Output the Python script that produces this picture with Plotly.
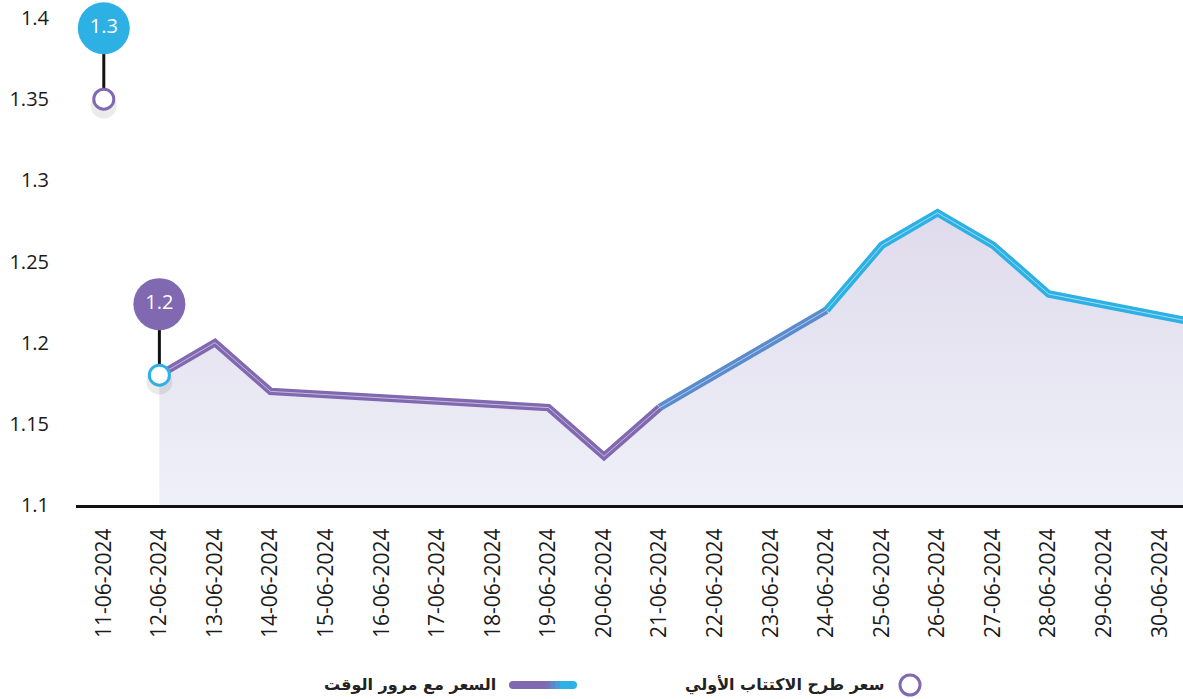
import plotly.graph_objects as go
from datetime import datetime, timedelta

# ---------------- data ----------------
tick_labels = ["11-06-2024", "12-06-2024", "13-06-2024", "14-06-2024", "15-06-2024",
               "16-06-2024", "17-06-2024", "18-06-2024", "19-06-2024", "20-06-2024",
               "21-06-2024", "22-06-2024", "23-06-2024", "24-06-2024", "25-06-2024",
               "26-06-2024", "27-06-2024", "28-06-2024", "29-06-2024", "30-06-2024"]
price_dates = ["2024-06-12", "2024-06-13", "2024-06-14", "2024-06-19", "2024-06-20",
               "2024-06-21", "2024-06-24", "2024-06-25", "2024-06-26", "2024-06-27",
               "2024-06-28", "2024-07-01"]
price_values = [1.18, 1.20, 1.17, 1.16, 1.13, 1.16, 1.22, 1.26, 1.28, 1.26, 1.23, 1.21]
ipo_date = "2024-06-11"
ipo_price = 1.35
ipo_label = "1.3"
first_date = "2024-06-12"
first_price = 1.18
first_label = "1.2"
y_ticks = [1.1, 1.15, 1.2, 1.25, 1.3, 1.35, 1.4]
y_ticktext = ["1.1", "1.15", "1.2", "1.25", "1.3", "1.35", "1.4"]
legend_ipo = "سعر طرح الاكتتاب الأولي"
legend_price = "السعر مع مرور الوقت"

# ---------------- style ----------------
PURPLE = "#8069b0"
BLUE = "#2db1e5"
MID = "#5a8ccd"
W, H = 1183, 699
L, R, T, B = 76, 0, 0, 194
plot_w = W - L - R
plot_h = H - T - B
y_min = 1.1
y_max = 1.4 + 18 / (487 / 0.3)
px_per_unit = plot_h / (y_max - y_min)
bubble_off = 71 / px_per_unit

tick_dates = [datetime.strptime(t, "%d-%m-%Y") for t in tick_labels]
x_range = [tick_dates[0] - timedelta(hours=12), tick_dates[-1] + timedelta(hours=10)]

def px2x(px):
    return (px - L) / plot_w

def py2y(py):
    return (H - B - py) / plot_h

fig = go.Figure()

# area fill
fig.add_trace(go.Scatter(
    x=price_dates, y=price_values, mode="lines", line=dict(width=0),
    fill="tozeroy",
    fillgradient=dict(type="vertical", start=1.1, stop=1.28,
                      colorscale=[[0, "#eef0f8"], [1, "#e0dbec"]]),
    hoverinfo="skip", showlegend=False))

# line segments (purple -> blue)
groups = [(0, 6, PURPLE), (5, 7, MID), (6, len(price_dates), BLUE)]
for a, b, c in groups:
    fig.add_trace(go.Scatter(x=price_dates[a:b], y=price_values[a:b], mode="lines",
                             line=dict(color=c, width=7.5), showlegend=False, hoverinfo="skip"))
fig.add_trace(go.Scatter(x=price_dates, y=price_values, mode="lines",
                         line=dict(color="rgba(255,255,255,0.55)", width=1),
                         showlegend=False, hoverinfo="skip"))

# connectors and bubbles
for d, v, lab, ring, bub in [(ipo_date, ipo_price, ipo_label, PURPLE, BLUE),
                             (first_date, first_price, first_label, BLUE, PURPLE)]:
    fig.add_trace(go.Scatter(x=[d, d], y=[v, v + bubble_off], mode="lines",
                             line=dict(color="#111111", width=3), showlegend=False,
                             hoverinfo="skip", cliponaxis=False))
    fig.add_trace(go.Scatter(x=[d], y=[v + bubble_off], mode="markers+text", text=[lab],
                             textposition="middle center",
                             textfont=dict(color="white", size=20, family="Open Sans"),
                             marker=dict(size=52, color=bub, line=dict(width=0)),
                             showlegend=False, hoverinfo="skip", cliponaxis=False))
    fig.add_trace(go.Scatter(x=[d], y=[v - 0.004], mode="markers",
                             marker=dict(size=26, color="rgba(0,0,0,0.08)", line=dict(width=0)),
                             showlegend=False, hoverinfo="skip", cliponaxis=False))
    fig.add_trace(go.Scatter(x=[d], y=[v], mode="markers",
                             marker=dict(size=20, color="white", line=dict(color=ring, width=3)),
                             showlegend=False, hoverinfo="skip", cliponaxis=False))

# ---------------- legend (manual, RTL) ----------------
ly = py2y(685)
shapes = []
shapes.append(dict(type="circle", xref="paper", yref="paper", xsizemode="pixel", ysizemode="pixel",
                   xanchor=px2x(910), yanchor=ly, x0=-10, x1=10, y0=-10, y1=10,
                   line=dict(color=PURPLE, width=3), fillcolor="white"))
bar_cols = [(513, 545, PURPLE), (545, 550, "#7473b8"), (550, 555, "#5f86c6"),
            (555, 560, "#4a9ad5"), (560, 573, BLUE)]
for x0, x1, c in bar_cols:
    shapes.append(dict(type="rect", xref="paper", yref="paper",
                       x0=px2x(x0), x1=px2x(x1), y0=py2y(689), y1=py2y(681),
                       line=dict(width=0), fillcolor=c))
for cx, c in [(513, PURPLE), (573, BLUE)]:
    shapes.append(dict(type="circle", xref="paper", yref="paper", xsizemode="pixel",
                       ysizemode="pixel", xanchor=px2x(cx), yanchor=ly,
                       x0=-4, x1=4, y0=-4, y1=4, line=dict(width=0), fillcolor=c))

annotations = [
    dict(text=legend_ipo, xref="paper", yref="paper", x=px2x(886), y=ly, xanchor="right",
         yanchor="middle", showarrow=False,
         font=dict(size=16, color="#222222", family="DejaVu Sans", weight="bold")),
    dict(text=legend_price, xref="paper", yref="paper", x=px2x(498), y=ly, xanchor="right",
         yanchor="middle", showarrow=False,
         font=dict(size=16, color="#222222", family="DejaVu Sans", weight="bold")),
]

fig.update_layout(
    width=W, height=H, margin=dict(l=L, r=R, t=T, b=B),
    paper_bgcolor="white", plot_bgcolor="white",
    showlegend=False, shapes=shapes, annotations=annotations,
    font=dict(family="Open Sans", color="#1a1a1a"),
    xaxis=dict(type="date", range=x_range, tickvals=tick_dates, ticktext=tick_labels,
               tickangle=-90, tickfont=dict(size=21, color="#1a1a1a"),
               showgrid=False, zeroline=False, showline=True, linecolor="#111111",
               linewidth=3, ticks="", ticklabelstandoff=12),
    yaxis=dict(range=[y_min, y_max], tickvals=y_ticks, ticktext=y_ticktext,
               tickfont=dict(size=20, color="#1a1a1a"), showgrid=False, zeroline=False,
               showline=False, ticks="", ticklabelstandoff=26),
)

fig.write_html("out.html", config={"displayModeBar": False},
               post_script="document.body.style.margin='0';")
